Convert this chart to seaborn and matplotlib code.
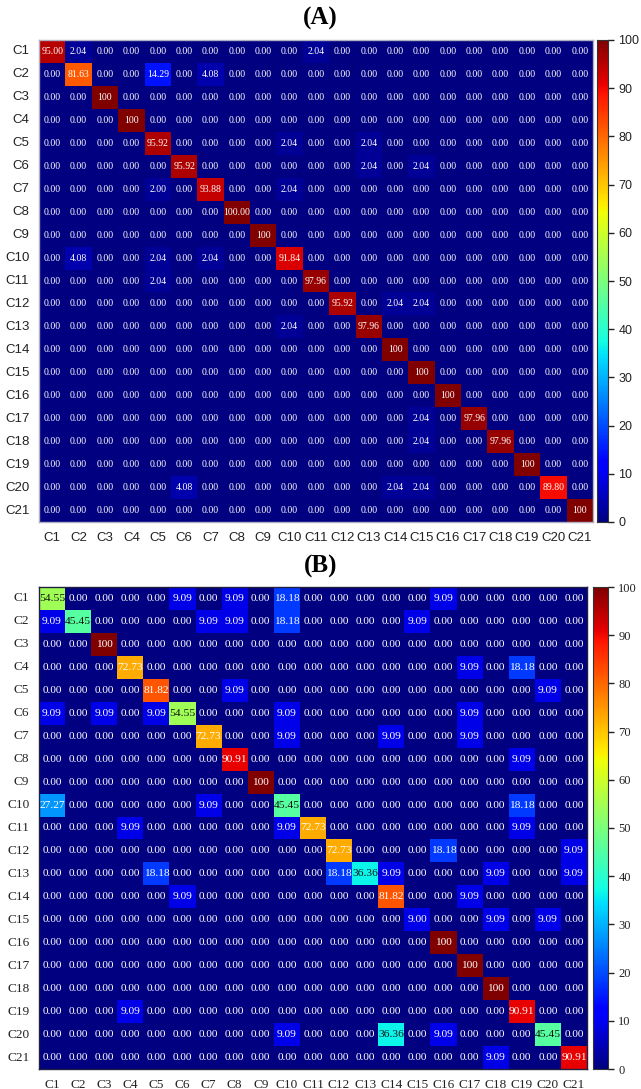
import numpy as np
import pandas as pd
import matplotlib
matplotlib.use("Agg")
import matplotlib.pyplot as plt
import seaborn as sns

classes = [f"C{i}" for i in range(1, 22)]

# Panel A non-zero cells: (row, col, value, label)
cells_a = [
    ("C1", "C1", 95.00, "95.00"), ("C1", "C2", 2.04, "2.04"), ("C1", "C11", 2.04, "2.04"),
    ("C2", "C2", 81.63, "81.63"), ("C2", "C5", 14.29, "14.29"), ("C2", "C7", 4.08, "4.08"),
    ("C3", "C3", 100, "100"),
    ("C4", "C4", 100, "100"),
    ("C5", "C5", 95.92, "95.92"), ("C5", "C10", 2.04, "2.04"), ("C5", "C13", 2.04, "2.04"),
    ("C6", "C6", 95.92, "95.92"), ("C6", "C13", 2.04, "2.04"), ("C6", "C15", 2.04, "2.04"),
    ("C7", "C5", 2.00, "2.00"), ("C7", "C7", 93.88, "93.88"), ("C7", "C10", 2.04, "2.04"),
    ("C8", "C8", 100, "100.00"),
    ("C9", "C9", 100, "100"),
    ("C10", "C2", 4.08, "4.08"), ("C10", "C5", 2.04, "2.04"), ("C10", "C7", 2.04, "2.04"),
    ("C10", "C10", 91.84, "91.84"),
    ("C11", "C5", 2.04, "2.04"), ("C11", "C11", 97.96, "97.96"),
    ("C12", "C12", 95.92, "95.92"), ("C12", "C14", 2.04, "2.04"), ("C12", "C15", 2.04, "2.04"),
    ("C13", "C10", 2.04, "2.04"), ("C13", "C13", 97.96, "97.96"),
    ("C14", "C14", 100, "100"),
    ("C15", "C15", 100, "100"),
    ("C16", "C16", 100, "100"),
    ("C17", "C15", 2.04, "2.04"), ("C17", "C17", 97.96, "97.96"),
    ("C18", "C15", 2.04, "2.04"), ("C18", "C18", 97.96, "97.96"),
    ("C19", "C19", 100, "100"),
    ("C20", "C6", 4.08, "4.08"), ("C20", "C14", 2.04, "2.04"), ("C20", "C15", 2.04, "2.04"),
    ("C20", "C20", 89.80, "89.80"),
    ("C21", "C21", 100, "100"),
]

# Panel B non-zero cells: (row, col, value, label)
cells_b = [
    ("C1", "C1", 54.55, "54.55"), ("C1", "C6", 9.09, "9.09"), ("C1", "C8", 9.09, "9.09"),
    ("C1", "C10", 18.18, "18.18"), ("C1", "C16", 9.09, "9.09"),
    ("C2", "C1", 9.09, "9.09"), ("C2", "C2", 45.45, "45.45"), ("C2", "C7", 9.09, "9.09"),
    ("C2", "C8", 9.09, "9.09"), ("C2", "C10", 18.18, "18.18"), ("C2", "C15", 9.09, "9.09"),
    ("C3", "C3", 100, "100"),
    ("C4", "C4", 72.73, "72.73"), ("C4", "C17", 9.09, "9.09"), ("C4", "C19", 18.18, "18.18"),
    ("C5", "C5", 81.82, "81.82"), ("C5", "C8", 9.09, "9.09"), ("C5", "C20", 9.09, "9.09"),
    ("C6", "C1", 9.09, "9.09"), ("C6", "C3", 9.09, "9.09"), ("C6", "C5", 9.09, "9.09"),
    ("C6", "C6", 54.55, "54.55"), ("C6", "C10", 9.09, "9.09"), ("C6", "C17", 9.09, "9.09"),
    ("C7", "C7", 72.73, "72.73"), ("C7", "C10", 9.09, "9.09"), ("C7", "C14", 9.09, "9.09"),
    ("C7", "C17", 9.09, "9.09"),
    ("C8", "C8", 90.91, "90.91"), ("C8", "C19", 9.09, "9.09"),
    ("C9", "C9", 100, "100"),
    ("C10", "C1", 27.27, "27.27"), ("C10", "C7", 9.09, "9.09"), ("C10", "C10", 45.45, "45.45"),
    ("C10", "C19", 18.18, "18.18"),
    ("C11", "C4", 9.09, "9.09"), ("C11", "C10", 9.09, "9.09"), ("C11", "C11", 72.73, "72.73"),
    ("C11", "C19", 9.09, "9.09"),
    ("C12", "C12", 72.73, "72.73"), ("C12", "C16", 18.18, "18.18"), ("C12", "C21", 9.09, "9.09"),
    ("C13", "C5", 18.18, "18.18"), ("C13", "C12", 18.18, "18.18"), ("C13", "C13", 36.36, "36.36"),
    ("C13", "C14", 9.09, "9.09"), ("C13", "C18", 9.09, "9.09"), ("C13", "C21", 9.09, "9.09"),
    ("C14", "C6", 9.09, "9.09"), ("C14", "C14", 81.82, "81.82"), ("C14", "C17", 9.09, "9.09"),
    ("C15", "C15", 9.00, "9.00"), ("C15", "C18", 9.09, "9.09"), ("C15", "C20", 9.09, "9.09"),
    ("C16", "C16", 100, "100"),
    ("C17", "C17", 100, "100"),
    ("C18", "C18", 100, "100"),
    ("C19", "C4", 9.09, "9.09"), ("C19", "C19", 90.91, "90.91"),
    ("C20", "C10", 9.09, "9.09"), ("C20", "C14", 36.36, "36.36"), ("C20", "C16", 9.09, "9.09"),
    ("C20", "C20", 45.45, "45.45"),
    ("C21", "C18", 9.09, "9.09"), ("C21", "C21", 90.91, "90.91"),
]

cbar_ticks = list(range(0, 101, 10))


def build(cells):
    vals = pd.DataFrame(0.0, index=classes, columns=classes)
    labs = pd.DataFrame("0.00", index=classes, columns=classes)
    for r, c, v, l in cells:
        vals.loc[r, c] = v
        labs.loc[r, c] = l
    return vals, labs


W, H = 641, 1089
fig = plt.figure(figsize=(W / 100, H / 100), dpi=100)

def fx(px):
    return px / W

def fy(py):
    return 1 - py / H

panels = [
    dict(cells=cells_a, title="(A)", ax=(39, 40, 593, 522), cb=(597, 40, 608, 522),
         tickfont="Liberation Sans", annsize=7.0, edge="#b0b0c0", title_y=18),
    dict(cells=cells_b, title="(B)", ax=(39, 587, 587, 1069), cb=(593, 587, 608, 1069),
         tickfont="Liberation Serif", annsize=8.2, edge="#202040", title_y=566),
]

for p in panels:
    x0, y0, x1, y1 = p["ax"]
    ax = fig.add_axes([fx(x0), fy(y1), fx(x1) - fx(x0), fy(y0) - fy(y1)])
    cx0, cy0, cx1, cy1 = p["cb"]
    cax = fig.add_axes([fx(cx0), fy(cy1), fx(cx1) - fx(cx0), fy(cy0) - fy(cy1)])
    vals, labs = build(p["cells"])
    sns.heatmap(vals, ax=ax, cbar_ax=cax, cmap="jet", vmin=0, vmax=100,
                annot=labs, fmt="", square=False,
                annot_kws=dict(fontsize=p["annsize"], family="Liberation Serif", color="white"))
    # dark text on light mid-range cells
    for t in ax.texts:
        try:
            v = float(t.get_text())
        except ValueError:
            continue
        if 30 < v < 60:
            t.set_color("#101010")
    ax.tick_params(length=0, pad=7)
    ax.set_xticklabels(classes, rotation=0, fontsize=9.5, family=p["tickfont"], color="#222222")
    ax.set_yticklabels(classes, rotation=0, fontsize=9.5, family=p["tickfont"], color="#222222")
    ax.set_xlabel("")
    ax.set_ylabel("")
    for s in ax.spines.values():
        s.set_visible(True)
        s.set_edgecolor(p["edge"])
        s.set_linewidth(1.0)
    cax.set_yticks(cbar_ticks)
    cax.tick_params(labelsize=9, length=4, width=1, direction="out", colors="#222222")
    for lab in cax.get_yticklabels():
        lab.set_family(p["tickfont"])
    for s in cax.spines.values():
        s.set_visible(True)
        s.set_edgecolor("#333333")
    fig.text(0.5, fy(p["title_y"]), p["title"], ha="center", va="center",
             fontsize=18, fontweight="bold", family="Liberation Serif")

fig.savefig("out.png", dpi=100)
